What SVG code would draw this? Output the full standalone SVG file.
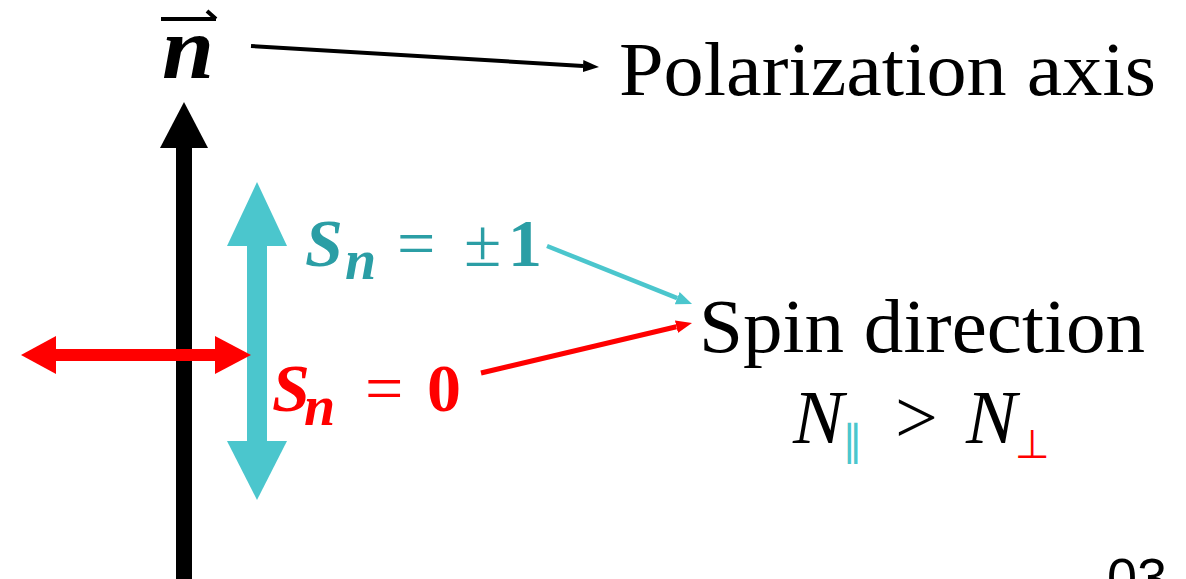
<svg xmlns="http://www.w3.org/2000/svg" width="1186" height="579" viewBox="0 0 1186 579">
<style>
.serif{font-family:"Liberation Serif","Times New Roman",serif;}
.bi{font-weight:bold;font-style:italic;}
.teal{fill:#2B9EA5;}
.red{fill:#FF0000;}
.blk{fill:#000;}
</style>
<defs>
<marker id="hBlack" markerUnits="userSpaceOnUse" markerWidth="20" markerHeight="16" refX="0" refY="0" viewBox="0 -8 20 16" orient="auto"><path d="M0,-6 L16,0 L0,6 z" fill="#000"/></marker>
<marker id="hCyan" markerUnits="userSpaceOnUse" markerWidth="20" markerHeight="16" refX="0" refY="0" viewBox="0 -8 20 16" orient="auto"><path d="M0,-6.5 L16,0 L0,6.5 z" fill="#4BC6CD"/></marker>
<marker id="hRed" markerUnits="userSpaceOnUse" markerWidth="20" markerHeight="16" refX="0" refY="0" viewBox="0 -8 20 16" orient="auto"><path d="M0,-6.5 L16,0 L0,6.5 z" fill="#FF0000"/></marker>
</defs>
<rect width="1186" height="579" fill="#fff"/>

<g id="axis-arrow">
<rect x="176" y="146" width="16" height="440" fill="#000"/>
<polygon points="184,102 208,148 160,148" fill="#000"/>
</g>

<g id="spin-pm1-arrow">
<polygon points="257,182 287,246 227,246" fill="#4BC6CD"/>
<rect x="247" y="245" width="20" height="197" fill="#4BC6CD"/>
<polygon points="227,441 287,441 257,500" fill="#4BC6CD"/>
</g>

<g id="spin-0-arrow">
<rect x="55" y="349" width="161" height="12" fill="#FF0000"/>
<polygon points="21,355 56,336 56,374" fill="#FF0000"/>
<polygon points="251,355 215,336 215,374" fill="#FF0000"/>
</g>

<g id="n-label">
<text class="serif bi blk" x="162" y="78" font-size="88" textLength="52" lengthAdjust="spacingAndGlyphs">n</text>
<path d="M161,19 L216,19 M216,19 L207,11" stroke="#000" stroke-width="4" fill="none"/>
</g>

<g id="polarization-axis">
<text class="serif blk" x="619" y="95" font-size="76" textLength="537" lengthAdjust="spacingAndGlyphs">Polarization axis</text>
</g>

<g id="sn-pm1-label">
<text class="serif teal" font-size="68"><tspan class="bi" x="305" y="266">S</tspan><tspan class="bi" x="345" y="279" font-size="56">n</tspan><tspan x="397" y="266">=</tspan><tspan x="464" y="266">±</tspan><tspan font-weight="bold" x="508" y="266">1</tspan></text>
</g>

<g id="sn-0-label">
<text class="serif red" font-size="68"><tspan class="bi" x="272" y="411">S</tspan><tspan class="bi" x="304" y="425" font-size="56">n</tspan><tspan x="365" y="411">=</tspan><tspan font-weight="bold" x="427" y="411">0</tspan></text>
</g>

<g id="spin-direction">
<text class="serif blk" x="699" y="352" font-size="76" textLength="446" lengthAdjust="spacingAndGlyphs">Spin direction</text>
<text class="serif blk" font-size="76"><tspan font-style="italic" x="793" y="443">N</tspan><tspan x="895" y="443">&gt;</tspan><tspan font-style="italic" x="966" y="443">N</tspan></text>
<text x="842" y="455" font-size="42" fill="#4BC6CD" font-family="DejaVu Sans, sans-serif">∥</text>
<text x="1015" y="458" font-size="40" fill="#FF0000" font-family="DejaVu Sans, sans-serif">⊥</text>
</g>

<g id="page-number">
<text x="1107" y="596" font-size="54" fill="#000" font-family="Liberation Sans, Arial, sans-serif">03</text>
</g>

<g id="connectors" fill="none">
<line x1="251" y1="46" x2="583" y2="66" stroke="#000" stroke-width="4" marker-end="url(#hBlack)"/>
<line x1="547" y1="246" x2="677.2" y2="298.1" stroke="#4BC6CD" stroke-width="4.5" marker-end="url(#hCyan)"/>
<line x1="481" y1="373" x2="676.4" y2="326.7" stroke="#FF0000" stroke-width="5" marker-end="url(#hRed)"/>
</g>
</svg>
